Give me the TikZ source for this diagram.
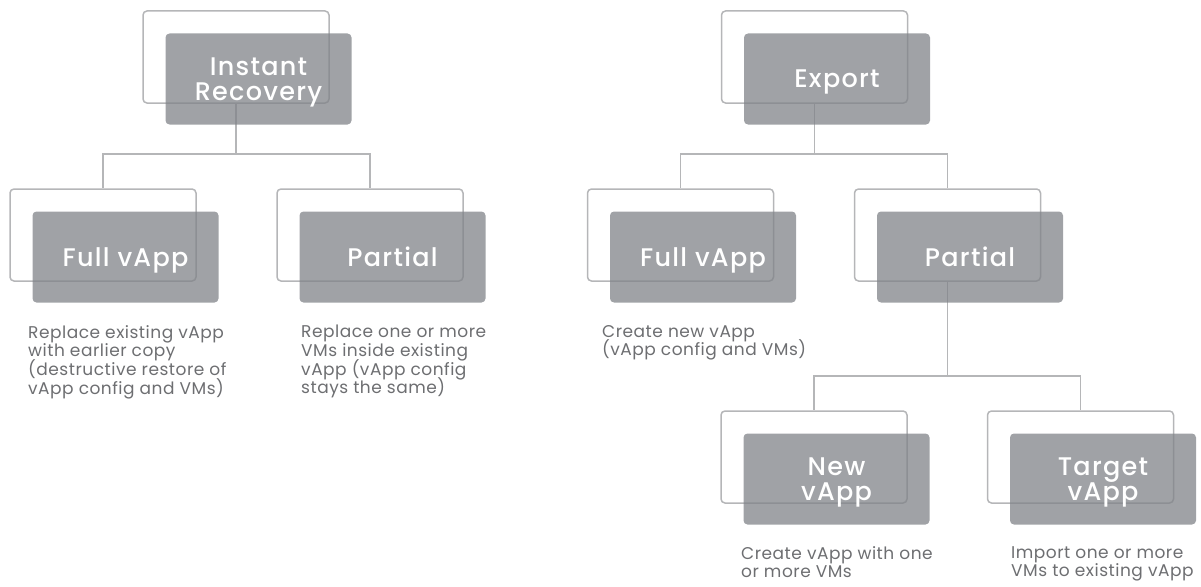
\documentclass[tikz,border=0pt]{standalone}
\usepackage{fontspec}
\setmainfont{Poppins}[LetterSpace=3]
\newfontfamily\labelfont{Poppins}[UprightFont=* Medium, LetterSpace=5]
\newcommand\descfont{\fontsize{17}{18.7}\selectfont\lineskiplimit=-20pt\relax}

\definecolor{linegray}{RGB}{181,182,184}
\definecolor{boxgray}{RGB}{128,131,136}
\definecolor{textgray}{RGB}{109,110,113}

\tikzset{
  backbox/.style={draw=linegray, line width=1.5pt, rounded corners=4pt,
    minimum width=186pt, minimum height=92pt, inner sep=0pt},
  frontbox/.style={fill=boxgray, fill opacity=0.75, text opacity=1, text=white,
    rounded corners=4pt, minimum width=186pt, minimum height=91pt, inner sep=0pt,
    align=center, text depth=0pt, font=\labelfont\fontsize{25.5}{24.5}\selectfont,
    xshift=22.5pt, yshift=-22pt},
  link/.style={draw=linegray, line width=1.5pt},
  desc/.style={text=textgray, align=left, anchor=north west, inner sep=0pt,
    font=\descfont}
}

\begin{document}
\begin{tikzpicture}[x=1pt, y=-1pt]
      \useasboundingbox (0,0) rectangle (1201,586);

      % outlines behind
      \node[backbox] (irback) at (236,57) {};
      \node[backbox] (lfullback) at (103,235) {};
      \node[backbox] (lpartback) at (370,235) {};

      \node[backbox] (exback) at (814.5,57) {};
      \node[backbox] (rfullback) at (680.5,235) {};
      \node[backbox] (rpartback) at (947.5,235) {};
      \node[backbox] (newback) at (814,457) {};
      \node[backbox] (tgtback) at (1080.5,457) {};

      \coordinate (irsplit) at (236,154);
      \coordinate (exsplit) at (814.5,154);
      \coordinate (partsplit) at (947.5,376);

      \draw[link] (irback.south) -- (irsplit) -| (lfullback.north);
      \draw[link] (irsplit) -| (lpartback.north);
      \draw[link] (exback.south) -- (exsplit) -| (rfullback.north);
      \draw[link] (exsplit) -| (rpartback.north);
      \draw[link] (rpartback.south) -- (partsplit) -| (newback.north);
      \draw[link] (partsplit) -| (tgtback.north);

      % filled boxes on top
      \node[frontbox] (ir) at (irback) {Instant\\Recovery};
      \node[frontbox] (lfull) at (lfullback) {Full vApp};
      \node[frontbox] (lpart) at (lpartback) {Partial};

      \node[frontbox] (ex) at (exback) {Export};
      \node[frontbox] (rfull) at (rfullback) {Full vApp};
      \node[frontbox] (rpart) at (rpartback) {Partial};
      \node[frontbox] (new) at (newback) {New\\vApp};
      \node[frontbox] (tgt) at (tgtback) {Target\\vApp};

      \node[desc] (lfulltxt) at (28,325) {Replace existing vApp\\with earlier copy\\(destructive restore of\\vApp config and VMs)};
      \node[desc] (lparttxt) at (301,325) {Replace one or more\\VMs inside existing\\vApp (vApp config\\stays the same)};
      \node[desc] (rfulltxt) at (602,325) {Create new vApp\\(vApp config and VMs)};
      \node[desc] (newtxt) at (741,546) {Create vApp with one\\or more VMs};
      \node[desc] (tgttxt) at (1011,546) {Import one or more\\VMs to existing vApp};

    \end{tikzpicture}
\end{document}
